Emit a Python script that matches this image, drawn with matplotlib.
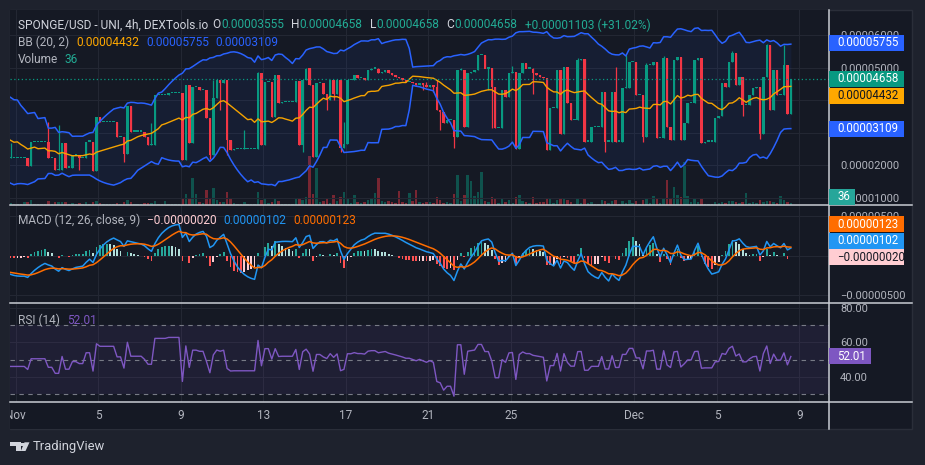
import numpy as np
import pandas as pd
import matplotlib
matplotlib.use("Agg")
import matplotlib.pyplot as plt
from matplotlib.patches import Rectangle, Polygon

plt.rcParams['font.family'] = ['Roboto', 'DejaVu Sans']

# ---------------- data (prices in units of 1e-5 USD) ----------------
UNIT = 1e-5
# candles before the visible window (only feed the indicators)
warmup_closes = [3.6, 3.6, 2.4, 3.9, 3.9, 2.2, 3.4, 3.4, 2.0, 3.8, 3.5, 3.5, 2.1,
                 2.1, 3.7, 2.5, 2.5, 3.9, 2.2, 2.2, 3.3, 1.9, 2.6, 2.6, 3.0, 2.21]
closes = [
    2.21, 2.21, 2.21, 2.21, 2.21, 1.97, 2.70, 2.70, 2.70, 2.70,
    2.70, 2.21, 2.21, 1.85, 1.85, 2.67, 1.92, 1.92, 2.31, 2.31,
    2.21, 2.21, 2.72, 2.72, 1.82, 3.47, 3.33, 3.33, 3.33, 3.33,
    3.33, 2.87, 2.87, 2.33, 3.82, 3.03, 3.03, 3.03, 3.03, 2.87,
    2.62, 2.62, 4.15, 4.15, 4.15, 4.15, 4.21, 4.21, 4.21, 4.21,
    2.15, 4.46, 2.67, 4.41, 4.41, 4.31, 4.31, 3.46, 2.31, 4.05,
    4.62, 4.51, 4.62, 2.77, 2.46, 2.48, 2.48, 2.48, 2.48, 2.48,
    2.48, 2.48, 4.82, 2.61, 4.56, 4.56, 3.47, 4.77, 3.90, 3.93,
    3.93, 3.93, 3.93, 4.60, 2.61, 4.62, 4.97, 4.46, 2.26, 4.51,
    4.51, 4.20, 4.00, 4.62, 4.20, 4.62, 2.51, 2.66, 4.62, 4.62,
    4.77, 4.67, 4.67, 4.62, 4.92, 4.97, 4.97, 4.82, 4.87, 4.92,
    4.82, 4.77, 4.72, 4.67, 4.62, 4.56, 4.56, 4.51, 4.46, 4.51,
    4.46, 4.41, 4.46, 4.41, 3.70, 3.64, 3.28, 3.38, 3.38, 2.87,
    4.92, 4.92, 3.18, 4.82, 4.87, 4.92, 5.38, 5.38, 4.97, 4.97,
    4.41, 3.13, 3.13, 4.31, 4.10, 4.82, 4.85, 2.48, 4.82, 5.13,
    4.97, 4.97, 4.82, 4.77, 4.72, 4.67, 2.46, 3.74, 3.74, 4.92,
    2.97, 5.03, 3.90, 3.38, 3.38, 5.23, 5.25, 2.72, 2.72, 3.18,
    3.18, 3.18, 4.26, 2.72, 2.72, 4.26, 2.72, 2.72, 4.36, 4.36,
    5.18, 5.18, 4.15, 4.15, 2.87, 5.08, 5.08, 5.18, 2.82, 2.82,
    5.28, 3.18, 2.77, 5.23, 5.33, 2.77, 3.28, 3.90, 3.90, 5.23,
    5.28, 2.67, 2.72, 2.72, 2.72, 3.46, 3.50, 4.51, 4.41, 5.18,
    5.46, 4.46, 4.70, 3.85, 3.85, 4.15, 4.36, 4.40, 2.97, 4.72,
    5.69, 3.69, 4.92, 4.15, 4.15, 5.08, 3.555, 4.658,
]
wick_highs = {0: 2.67, 11: 3.31, 14: 3.23, 41: 3.28, 59: 4.62, 68: 3.08, 72: 4.85,
              86: 5.00, 97: 3.33, 121: 4.55, 124: 4.62, 131: 5.00, 146: 5.05,
              152: 5.00, 165: 5.30, 176: 5.02, 179: 5.38, 185: 5.15, 190: 5.35,
              210: 5.50, 220: 5.72, 225: 5.69}
wick_lows = {20: 1.85, 33: 2.10, 58: 2.20, 61: 3.70, 63: 2.31, 85: 2.41, 92: 3.70,
             94: 4.00, 96: 2.41, 120: 4.30, 123: 4.25, 125: 3.08, 129: 2.51,
             139: 4.30, 140: 3.13, 152: 4.20, 173: 2.41, 184: 2.70, 213: 3.50,
             218: 2.80}
volumes = [
    40, 20, 15, 25, 55, 60, 90, 20, 25, 15,
    20, 70, 15, 55, 50, 60, 50, 15, 40, 20,
    35, 20, 50, 20, 60, 75, 40, 15, 20, 15,
    20, 40, 20, 50, 90, 60, 20, 20, 15, 30,
    40, 45, 80, 20, 15, 70, 20, 15, 20, 25,
    110, 200, 120, 490, 200, 60, 40, 270, 100, 300,
    90, 60, 50, 230, 100, 30, 20, 15, 50, 20,
    15, 20, 230, 90, 100, 30, 60, 120, 80, 20,
    20, 15, 20, 100, 120, 90, 150, 880, 190, 660,
    60, 80, 110, 40, 180, 70, 150, 230, 130, 40,
    180, 60, 30, 50, 90, 110, 220, 490, 80, 60,
    70, 50, 40, 250, 60, 40, 210, 80, 270, 60,
    40, 50, 60, 40, 150, 90, 40, 50, 30, 200,
    540, 70, 180, 540, 430, 160, 230, 600, 80, 50,
    150, 120, 40, 130, 60, 90, 40, 140, 180, 70,
    50, 30, 140, 40, 60, 50, 130, 100, 30, 90,
    110, 100, 90, 60, 20, 120, 40, 110, 30, 60,
    20, 15, 90, 80, 30, 70, 90, 20, 80, 40,
    90, 30, 70, 20, 90, 110, 40, 160, 100, 30,
    120, 450, 120, 320, 180, 140, 770, 160, 50, 100,
    60, 110, 20, 15, 20, 50, 30, 60, 40, 70,
    80, 60, 40, 50, 220, 40, 60, 30, 90, 60,
    70, 80, 50, 40, 160, 90, 60, 36,
]
tick_days = [0, 4, 8, 12, 16, 20, 24, 30, 34, 38]
tick_labels = ['Nov', '5', '9', '13', '17', '21', '25', 'Dec', '5', '9']

title_main = "SPONGE/USD - UNI, 4h, DEXTools.io"
ohlc_text = [("O", "0.00003555"), ("H", "0.00004658"), ("L", "0.00004658"), ("C", "0.00004658")]
change_text = "+0.00001103 (+31.02%)"
bb_vals = ["0.00004432", "0.00005755", "0.00003109"]
macd_vals = ["\u22120.00000020", "0.00000102", "0.00000123"]
rsi_val = "52.01"
last_volume = "36"

# ---------------- indicators ----------------
n_w = len(warmup_closes)
all_c = np.array(warmup_closes + closes) * UNIT
xs_all = np.arange(len(all_c)) - n_w
s = pd.Series(all_c)
basis = s.rolling(20).mean()
sd = s.rolling(20).std(ddof=0)
upper = basis + 2 * sd
lower = basis - 2 * sd
ema12 = s.ewm(span=12, adjust=False).mean()
ema26 = s.ewm(span=26, adjust=False).mean()
macd = ema12 - ema26
signal = macd.ewm(span=9, adjust=False).mean()
hist = macd - signal
dlt = s.diff().fillna(0)
ag = dlt.clip(lower=0).ewm(alpha=1 / 14, adjust=False).mean()
al = (-dlt.clip(upper=0)).ewm(alpha=1 / 14, adjust=False).mean()
rsi = 100 - 100 / (1 + ag / al.replace(0, np.nan))
rsi = rsi.fillna(50)

vis = xs_all >= -1
n = len(closes)
kx = np.arange(n)
c = np.array(closes) * UNIT
o = all_c[n_w - 1:-1]
hi = np.maximum(o, c)
lo = np.minimum(o, c)
for k, v in wick_highs.items():
    hi[k] = max(hi[k], v * UNIT)
for k, v in wick_lows.items():
    lo[k] = min(lo[k], v * UNIT)

# ---------------- styling ----------------
W, H = 925, 465
BG = '#1e222d'
PANE = '#151924'
GRID = '#232733'
TXT = '#b2b5be'
UP = '#089981'
DN = '#f23645'
SEP = '#c9ccd3'


def fr(x0, y0, x1, y1):
    return [x0 / W, 1 - y1 / H, (x1 - x0) / W, (y1 - y0) / H]


fig = plt.figure(figsize=(W / 100, H / 100), dpi=100, facecolor=BG)
fig.patches.append(Rectangle((10 / W, 1 - 429 / H), 902 / W, 419 / H, transform=fig.transFigure,
                             fc=PANE, ec='#2a2e39', lw=1, zorder=-5))

X_LEFT, X_RIGHT = -0.15, 238.1
ticks_x = [1.5 + 6 * d for d in tick_days]


def style(a):
    for sp in a.spines.values():
        sp.set_visible(False)
    a.set_facecolor(PANE)
    a.set_xlim(X_LEFT, X_RIGHT)
    a.set_xticks(ticks_x)
    a.tick_params(axis='x', length=0, labelbottom=False)
    a.yaxis.tick_right()
    a.tick_params(axis='y', length=0, pad=8, labelcolor=TXT, labelsize=8)
    a.grid(True, color=GRID, lw=0.8)
    a.set_axisbelow(True)


def set_yticks(a, vals, labels):
    a.set_yticks(vals)
    a.set_yticklabels(labels)
    for lab in a.get_yticklabels():
        lab.set_horizontalalignment('left')


# volume (behind the price pane)
ax_v = fig.add_axes(fr(10, 10, 829, 205))
style(ax_v)
ax_v.grid(False)
ax_v.set_yticks([])
ax_v.set_ylim(0, 3510)
upc = c >= o
ax_v.bar(kx, volumes, width=0.72, color=np.where(upc, UP, DN), alpha=0.45, lw=0)

ax = fig.add_axes(fr(10, 10, 829, 205))
style(ax)
ax.patch.set_visible(False)
ax.set_ylim(0.77e-5, 6.77e-5)
pt = np.arange(1, 7) * 1e-5
# 0.00003000 and 0.00004000 sit under the value boxes on the scale
set_yticks(ax, pt, [f"{v:.8f}" if i not in (2, 3) else "" for i, v in enumerate(pt)])

xv = xs_all[vis]
ax.fill_between(xv, lower[vis], upper[vis], color='#2962ff', alpha=0.07, lw=0, zorder=1)
colors = np.where(upc, UP, DN)
ax.vlines(kx, lo, hi, colors=colors, lw=0.9, zorder=2)
minh = 0.035 * UNIT
ax.bar(kx, np.maximum(np.abs(c - o), minh), bottom=np.minimum(o, c), width=0.72,
       color=colors, lw=0, zorder=3)
ax.plot(xv, upper[vis], color='#2962ff', lw=1.1, zorder=4)
ax.plot(xv, lower[vis], color='#2962ff', lw=1.1, zorder=4)
ax.plot(xv, basis[vis], color='#f5a300', lw=1.0, zorder=4)
ax.axhline(c[-1], color=UP, lw=0.9, ls=(0, (1, 2)), zorder=4)

# MACD pane
ax_m = fig.add_axes(fr(10, 205, 829, 303))
style(ax_m)
ax_m.set_ylim(-6.0e-6, 6.4e-6)
mt = [-5e-6, 0, 5e-6]
set_yticks(ax_m, mt, [f"{v:.8f}".replace('-', '\u2212') if v != 0 else "" for v in mt])
hv = hist.values
hcol = []
for i in range(len(hv)):
    prev = hv[i - 1] if i > 0 else hv[i]
    if hv[i] >= 0:
        hcol.append('#26a69a' if hv[i] > prev else '#b2dfdb')
    else:
        hcol.append('#ffcdd2' if hv[i] > prev else '#ff5252')
hcol = np.array(hcol)
ax_m.bar(xv, hv[vis], width=0.5, color=hcol[vis], lw=0, zorder=2)
ax_m.plot(xv, macd[vis], color='#2196f3', lw=1.1, zorder=3)
ax_m.plot(xv, signal[vis], color='#ff6d00', lw=1.1, zorder=3)

# RSI pane
ax_r = fig.add_axes(fr(10, 303, 829, 402))
style(ax_r)
ax_r.set_ylim(25.4, 82.9)
set_yticks(ax_r, [40, 60, 80], [f"{v:.2f}" for v in [40, 60, 80]])
ax_r.axhspan(30, 70, color='#7e57c2', alpha=0.1, lw=0, zorder=1)
for lvl in (70, 50, 30):
    ax_r.axhline(lvl, color='#787b86', lw=0.8, ls=(0, (4, 4)), zorder=2)
ax_r.plot(xv, rsi[vis], color='#7e57c2', lw=1.0, zorder=3)

# time axis
ax_t = fig.add_axes(fr(10, 402, 829, 429))
for sp in ax_t.spines.values():
    sp.set_visible(False)
ax_t.set_facecolor(PANE)
ax_t.set_xlim(X_LEFT, X_RIGHT)
ax_t.set_ylim(0, 1)
ax_t.set_xticks([])
ax_t.set_yticks([])
for tx, tl in zip(ticks_x, tick_labels):
    ax_t.text(tx, 0.5, tl, ha='center', va='center', color=TXT, fontsize=8.5, clip_on=True)

# separators
for yy in (205, 303, 402):
    fig.add_artist(plt.Line2D([10 / W, 912 / W], [1 - yy / H] * 2, color=SEP, lw=1.1, zorder=8))
fig.add_artist(plt.Line2D([829 / W] * 2, [1 - 10 / H, 1 - 429 / H], color=SEP, lw=1.1, zorder=8))


# value boxes on the price scale
def box(yc, text, fc, tc, w=75):
    fig.patches.append(Rectangle((829 / W, 1 - (yc + 8) / H), w / W, 16 / H,
                                 transform=fig.transFigure, fc=fc, ec='none', zorder=10))
    fig.text(837 / W, 1 - yc / H, text, ha='left', va='center', color=tc,
             fontsize=8.3, zorder=11)


def ypix(a, v):
    return H - a.transData.transform((0, v))[1]


main_boxes = [(5.755e-5, "0.00005755", '#2962ff', 'white'),
              (4.658e-5, "0.00004658", UP, 'white'),
              (4.432e-5, "0.00004432", '#ffa800', '#131722'),
              (3.109e-5, "0.00003109", '#2962ff', 'white')]
last = -100
for v, t, fc, tc in main_boxes:
    yc = max(ypix(ax, v), last + 17)
    box(yc, t, fc, tc)
    last = yc
box(197, last_volume, '#26a69a', 'white', w=26)

macd_boxes = [(-0.20e-6, macd_vals[0], '#ffcdd2', '#131722'),
              (1.02e-6, macd_vals[1], '#2196f3', 'white'),
              (1.23e-6, macd_vals[2], '#ff6d00', 'white')]
last = 1000
for v, t, fc, tc in macd_boxes:
    yc = min(ypix(ax_m, v), last - 16.5)
    box(yc, t, fc, tc)
    last = yc

box(ypix(ax_r, float(rsi_val)), rsi_val, '#7e57c2', 'white', w=42)

# legends: segments laid out one after another
renderer = fig.canvas.get_renderer()


def row(x, y, parts, size=8.6):
    for t, col, gap in parts:
        tt = fig.text(x / W, 1 - y / H, t, ha='left', va='center', color=col,
                      fontsize=size, zorder=12)
        wpx = tt.get_window_extent(renderer).width
        x += wpx + gap


GREEN_T = '#22ab94'
LIGHT = '#d1d4dc'
hdr = [(title_main, LIGHT, 4)]
for lab, val in ohlc_text:
    hdr += [(lab, LIGHT, 0.5), (val, GREEN_T, 7)]
hdr += [(change_text, GREEN_T, 0)]
row(18, 25, hdr)
row(18, 42, [("BB (20, 2)", TXT, 7), (bb_vals[0], '#ffa800', 7),
             (bb_vals[1], '#2962ff', 7), (bb_vals[2], '#2962ff', 0)])
row(18, 59, [("Volume", TXT, 6), (last_volume, GREEN_T, 0)])
row(18, 220, [("MACD (12, 26, close, 9)", TXT, 7), (macd_vals[0], '#ffcdd2', 7),
              (macd_vals[1], '#2196f3', 7), (macd_vals[2], '#ff6d00', 0)])
row(18, 320, [("RSI (14)", TXT, 7), (rsi_val, '#7e57c2', 0)])


# TradingView logo
def P(pts):
    return [(x / W, 1 - y / H) for x, y in pts]


LOGO = '#d1d4dc'
fig.patches.append(Polygon(P([(10, 442.3), (20.7, 442.3), (20.7, 451), (16, 451), (16, 445.7), (10, 445.7)]),
                           closed=True, transform=fig.transFigure, fc=LOGO, ec='none', zorder=12))
fig.patches.append(Polygon(P([(24.5, 442.3), (29.5, 442.3), (25.5, 451), (20.8, 451)]),
                           closed=True, transform=fig.transFigure, fc=LOGO, ec='none', zorder=12))
fig.patches.append(Rectangle((21.0 / W, 1 - 445.5 / H), 2.6 / W, 3.0 / H, transform=fig.transFigure,
                             fc=LOGO, ec='none', zorder=12))
fig.text(33 / W, 1 - 446 / H, "TradingView", ha='left', va='center', color=LOGO, fontsize=9.4, zorder=12)

fig.savefig("out.png", dpi=100, facecolor=BG)
